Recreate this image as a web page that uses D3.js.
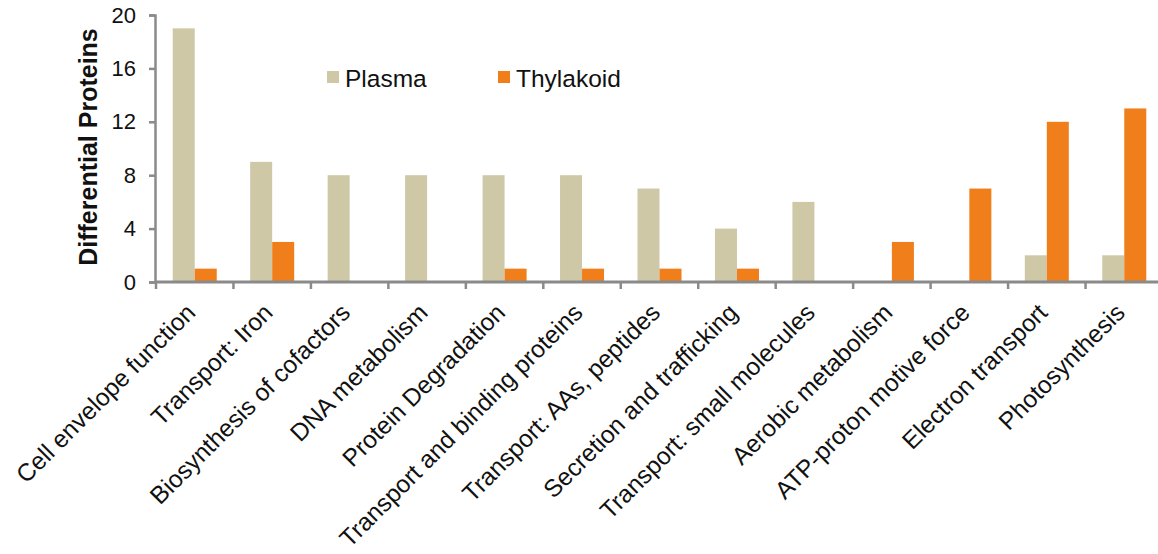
<!DOCTYPE html>
<html>
<head>
<meta charset="utf-8">
<script src="https://cdn.jsdelivr.net/npm/d3@7"></script>
<style>
  html, body { margin: 0; padding: 0; background: #fff; }
  svg { display: block; font-family: "Liberation Sans", Arial, sans-serif; }
</style>
</head>
<body>
<svg id="chart" width="1158" height="554"></svg>
<script>
// Functional categories of differentially abundant proteins
const categories = [
  "Cell envelope function",
  "Transport: Iron",
  "Biosynthesis of cofactors",
  "DNA metabolism",
  "Protein Degradation",
  "Transport and binding proteins",
  "Transport: AAs, peptides",
  "Secretion and trafficking",
  "Transport: small molecules",
  "Aerobic metabolism",
  "ATP-proton motive force",
  "Electron transport",
  "Photosynthesis"
];
const seriesNames = ["Plasma", "Thylakoid"];
const plasmaValues    = [19, 9, 8, 8, 8, 8, 7, 4, 6, 0, 0, 2, 2];
const thylakoidValues = [1, 3, 0, 0, 1, 1, 1, 1, 0, 3, 7, 12, 13];
const yTicks = [0, 4, 8, 12, 16, 20];
const yTitle = "Differential Proteins";

const colors = { Plasma: "#CEC8A7", Thylakoid: "#F07E1B" };
const axisColor = "#8a8a8a";

const svg = d3.select("#chart");

const x = d3.scaleBand().domain(categories).range([156, 1163]).paddingInner(0).paddingOuter(0);
const xSub = d3.scaleBand().domain(seriesNames).range([0, x.bandwidth()]).paddingInner(0).paddingOuter(0.76);
const y = d3.scaleLinear().domain([0, 20]).range([282, 15]);

const rows = categories.map((c, i) => ({ cat: c, Plasma: plasmaValues[i], Thylakoid: thylakoidValues[i] }));

// Bars
const groups = svg.append("g").selectAll("g")
  .data(rows).join("g")
  .attr("transform", d => `translate(${x(d.cat)},0)`);
groups.selectAll("rect")
  .data(d => seriesNames.map(s => ({ s, v: d[s] })).filter(e => e.v > 0))
  .join("rect")
  .attr("x", d => xSub(d.s))
  .attr("width", xSub.bandwidth())
  .attr("y", d => y(d.v))
  .attr("height", d => y(0) - y(d.v))
  .attr("fill", d => colors[d.s]);

// Y axis
const yAxis = svg.append("g")
  .attr("transform", "translate(155,0)")
  .call(d3.axisLeft(y).tickValues(yTicks).tickSize(6).tickPadding(13).tickFormat(d3.format("d")));
yAxis.select(".domain").attr("stroke", axisColor).attr("stroke-width", 2.5);
yAxis.selectAll(".tick line").attr("stroke", axisColor).attr("stroke-width", 2.5);
yAxis.selectAll(".tick text")
  .attr("fill", "#111").style("font-size", "22px")
  .style("font-family", "'Liberation Sans', Arial, sans-serif");

// X axis: baseline with ticks at category boundaries
const xAxisG = svg.append("g");
const bounds = categories.map(c => x(c)).concat([x.range()[1]]);
xAxisG.append("line")
  .attr("x1", x.range()[0]).attr("x2", x.range()[1])
  .attr("y1", y(0)).attr("y2", y(0))
  .attr("stroke", axisColor).attr("stroke-width", 3);
xAxisG.selectAll("line.tick")
  .data(bounds).join("line").attr("class", "tick")
  .attr("x1", d => d).attr("x2", d => d)
  .attr("y1", y(0)).attr("y2", y(0) + 7)
  .attr("stroke", axisColor).attr("stroke-width", 2.5);

// Category labels, rotated
svg.append("g").selectAll("text")
  .data(categories).join("text")
  .attr("transform", d => `translate(${x(d) + x.bandwidth() / 2 - 4},${y(0) + 26}) rotate(-45)`)
  .attr("text-anchor", "end")
  .attr("dy", "0.35em")
  .attr("fill", "#111")
  .style("font-size", "24.5px")
  .text(d => d);

// Y axis title
svg.append("text")
  .attr("transform", `translate(97,147) rotate(-90)`)
  .attr("text-anchor", "middle")
  .attr("fill", "#111")
  .style("font-size", "25px")
  .style("font-weight", "bold")
  .text(yTitle);

// Legend
const legend = svg.append("g");
const legendX = { Plasma: 327, Thylakoid: 498 };
seriesNames.forEach(s => {
  legend.append("rect")
    .attr("x", legendX[s]).attr("y", 71).attr("width", 12).attr("height", 12)
    .attr("fill", colors[s]);
  legend.append("text")
    .attr("x", legendX[s] + 18).attr("y", 87)
    .attr("fill", "#111")
    .style("font-size", "24.5px")
    .text(s);
});
</script>
</body>
</html>
